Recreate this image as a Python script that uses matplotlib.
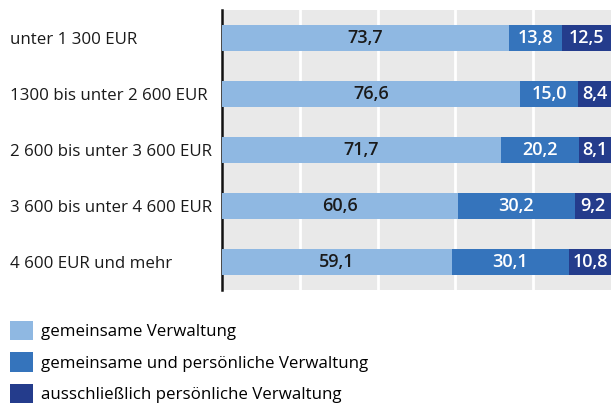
import matplotlib
matplotlib.use("Agg")
import matplotlib.pyplot as plt
from matplotlib.patches import Patch

# Daten
categories = [
    "unter 1 300 EUR",
    "1300 bis unter 2 600 EUR",
    "2 600 bis unter 3 600 EUR",
    "3 600 bis unter 4 600 EUR",
    "4 600 EUR und mehr",
]
gemeinsam = [73.7, 76.6, 71.7, 60.6, 59.1]
gemeinsam_persoenlich = [13.8, 15.0, 20.2, 30.2, 30.1]
nur_persoenlich = [12.5, 8.4, 8.1, 9.2, 10.8]
series_names = [
    "gemeinsame Verwaltung",
    "gemeinsame und persönliche Verwaltung",
    "ausschließlich persönliche Verwaltung",
]

colors = ["#8fb8e2", "#3574bc", "#243c8c"]
text_colors = ["#1a1a1a", "white", "white"]

plt.rcParams['font.family'] = ['Open Sans', 'DejaVu Sans']

W, H = 611, 403
fig = plt.figure(figsize=(W / 100, H / 100), dpi=100)
ax = fig.add_axes([222 / W, 1 - 290 / H, (611 - 222) / W, 280 / H])
ax.set_facecolor("#e9e9e9")

y = list(range(len(categories)))
left = [0.0] * len(categories)
for vals, col, tcol in zip([gemeinsam, gemeinsam_persoenlich, nur_persoenlich], colors, text_colors):
    ax.barh(y, vals, left=left, height=0.46, color=col, zorder=3)
    for yi, v, l in zip(y, vals, left):
        ax.text(l + v / 2, yi, f"{v:.1f}".replace(".", ","), ha="center", va="center",
                color=tcol, fontsize=13, fontweight="semibold", zorder=4)
    left = [a + b for a, b in zip(left, vals)]

ax.set_xlim(0, 100)
ax.set_ylim(len(categories) - 0.5, -0.5)
ax.set_xticks([20, 40, 60, 80])
ax.set_xticklabels([])
ax.tick_params(axis="x", length=0)
ax.grid(axis="x", color="white", linewidth=2, zorder=1)
ax.set_yticks(y)
ax.set_yticklabels(categories, fontsize=12.2, color="#1a1a1a")
ax.tick_params(axis="y", length=0, pad=212 * 0.72)
for lbl in ax.get_yticklabels():
    lbl.set_horizontalalignment("left")
for s in ["top", "right", "bottom"]:
    ax.spines[s].set_visible(False)
ax.spines["left"].set_linewidth(1.8)
ax.spines["left"].set_color("#111111")

# Legende
handles = [Patch(facecolor=c, edgecolor="none") for c in colors]
fig.legend(handles, series_names, loc="upper left", bbox_to_anchor=(10 / W, 1 - 321 / H),
           frameon=False, fontsize=12.2, handlelength=1.36, handleheight=1.36,
           handletextpad=0.45, labelspacing=0.72, borderaxespad=0, borderpad=0)

fig.savefig("out.png", dpi=100)
